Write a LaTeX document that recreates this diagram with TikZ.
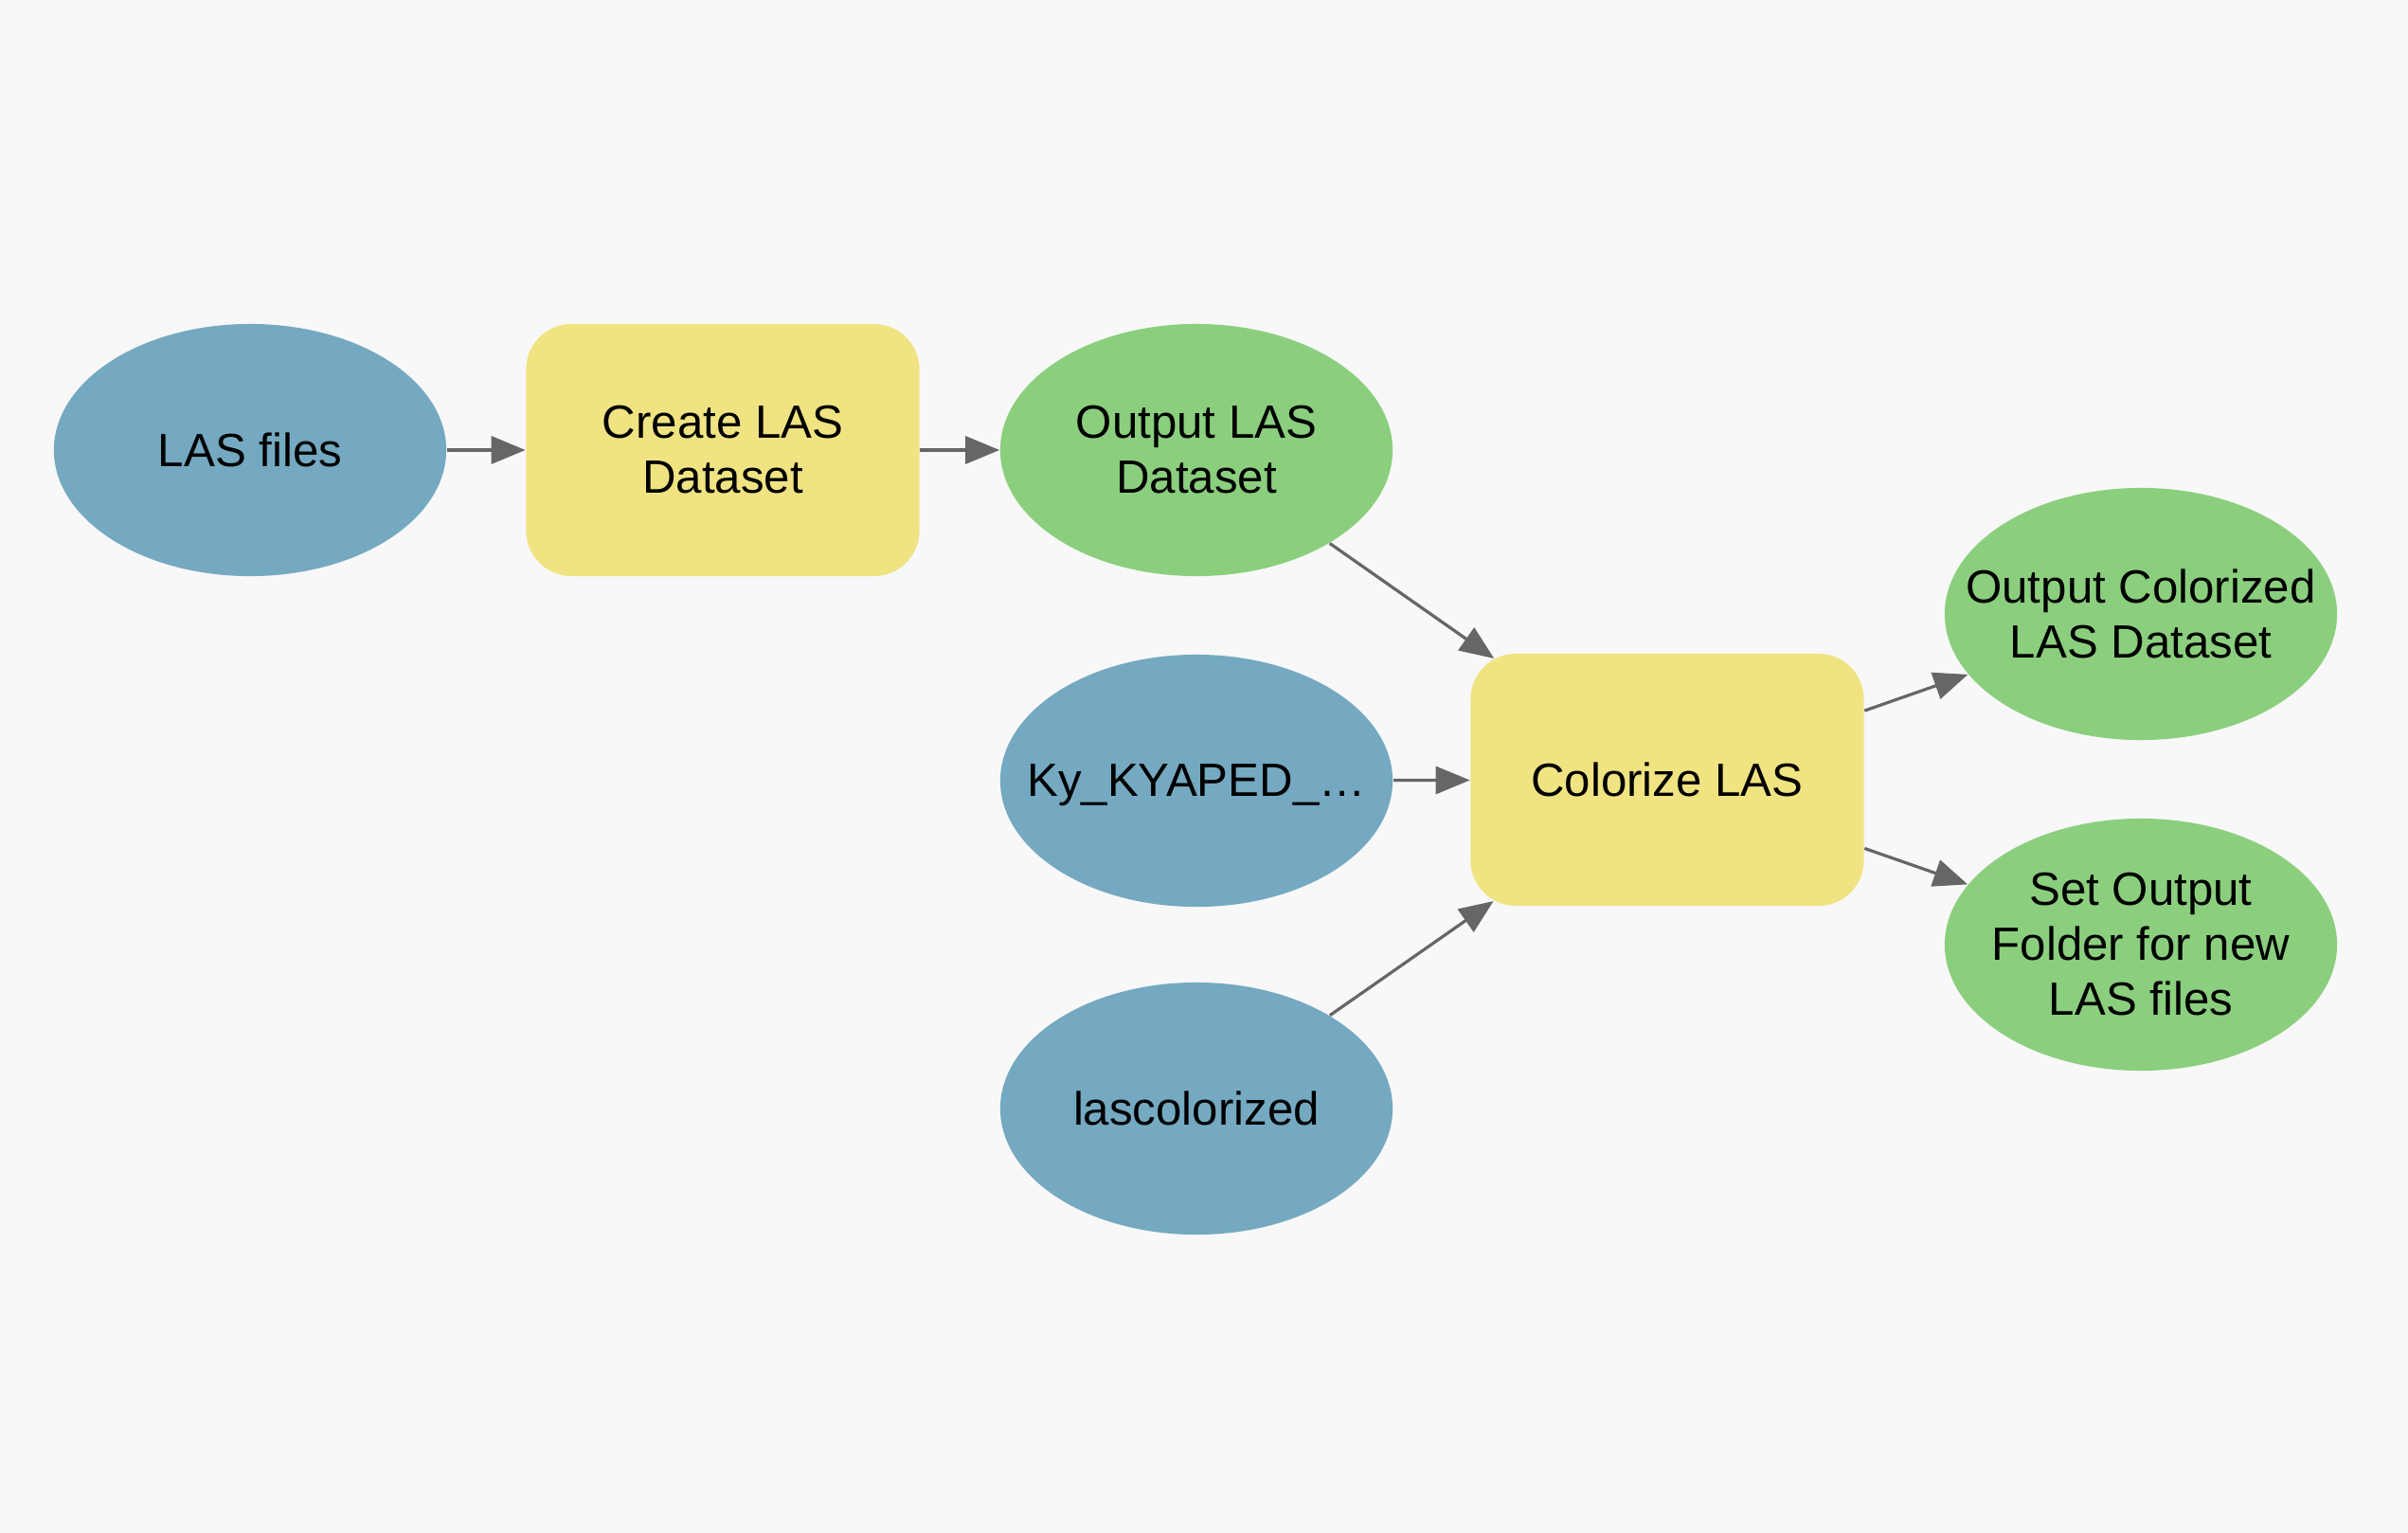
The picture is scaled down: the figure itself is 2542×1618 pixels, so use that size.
\documentclass[tikz,border=0pt]{standalone}
\usepackage{fontspec}
\setmainfont{Liberation Sans}
\usetikzlibrary{shapes.geometric,arrows.meta}
\definecolor{bgcol}{HTML}{F8F8F8}
\definecolor{bluecol}{HTML}{74A9C1}
\definecolor{yelcol}{HTML}{F0E382}
\definecolor{grncol}{HTML}{8BCF7E}
\definecolor{arrcol}{HTML}{666666}
\begin{document}
\begin{tikzpicture}[x=0.01cm,y=-0.01cm,
  ell/.style={ellipse,draw=none,inner sep=0pt,minimum width=4.14cm,minimum height=2.66cm},
  procbox/.style={rectangle,rounded corners=0.48cm,draw=none,fill=yelcol,inner sep=0pt,minimum width=4.15cm,minimum height=2.66cm,align=center,font=\fontsize{14}{16.5}\selectfont},
  txt/.style={align=center,inner sep=0pt,font=\fontsize{14}{16.5}\selectfont},
  conn/.style={draw=arrcol,line width=0.032cm,-{Triangle[length=0.36cm,width=0.29cm]}}]
\path[fill=bgcol,use as bounding box] (0,0) rectangle (2542,1618);
% nodes
\node[ell,fill=bluecol] (lasf) at (264,475) {};
\node[txt] (lasfT) at (lasf) {LAS files};
\node[procbox] (create) at (763,475) {Create LAS\\Dataset};
\node[ell,fill=grncol] (outlas) at (1263,475) {};
\node[txt] (outlasT) at (outlas) {Output LAS\\Dataset};
\node[ell,fill=bluecol] (ky) at (1263,824) {};
\node[txt,text depth=0pt] (kyT) at (ky) {Ky\_KYAPED\_\ldots};
\node[ell,fill=bluecol] (lasc) at (1263,1170) {};
\node[txt] (lascT) at (lasc) {lascolorized};
\node[procbox] (color) at (1760,823) {Colorize LAS};
\node[ell,fill=grncol] (outcol) at (2260,648) {};
\node[txt] (outcolT) at (outcol) {Output Colorized\\LAS Dataset};
\node[ell,fill=grncol] (setout) at (2260,997) {};
\node[txt] (setoutT) at (setout) {Set Output\\Folder for new\\LAS files};
% connectors
\draw[conn] (lasf) -- (create);
\draw[conn] (create) -- (outlas);
\draw[conn,shorten >=-0.1cm] (outlas) -- (color);
\draw[conn] (ky) -- (color);
\draw[conn,shorten >=-0.1cm] (lasc) -- (color);
\draw[conn] (color) -- (outcol);
\draw[conn] (color) -- (setout);
\end{tikzpicture}
\end{document}
